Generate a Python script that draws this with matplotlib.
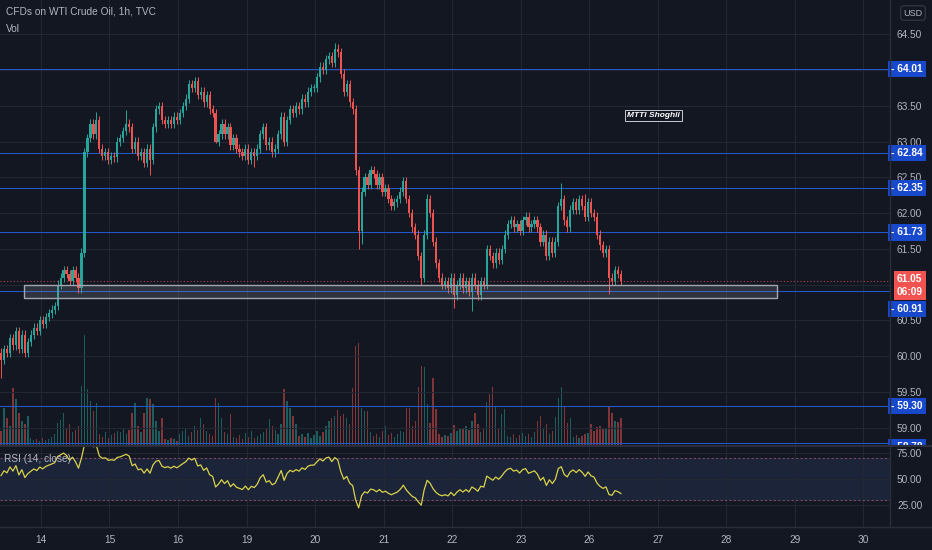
import numpy as np
import matplotlib
matplotlib.use("Agg")
import matplotlib.pyplot as plt
from matplotlib.lines import Line2D
from matplotlib.patches import Rectangle
from matplotlib.transforms import blended_transform_factory, Bbox, TransformedBbox

# hourly closes, one per candle
closes = [
    59.95, 60.10, 60.05, 60.25, 60.15, 60.35, 60.10, 60.30, 60.05, 60.20,
    60.30, 60.40, 60.35, 60.50, 60.45, 60.55, 60.60, 60.65, 60.70, 61.00,
    61.10, 61.20, 61.15, 61.05, 61.20, 61.10, 60.95, 61.45, 62.85, 63.05,
    63.25, 63.10, 63.30, 62.90, 62.80, 62.85, 62.75, 62.80, 62.78, 63.00,
    63.05, 63.15, 63.25, 63.20, 62.90, 63.00, 62.80, 62.85, 62.70, 62.90,
    62.75, 63.20, 63.45, 63.50, 63.30, 63.25, 63.30, 63.25, 63.35, 63.30,
    63.40, 63.50, 63.60, 63.80, 63.75, 63.85, 63.65, 63.70, 63.55, 63.65,
    63.45, 63.40, 63.00, 63.10, 63.25, 63.10, 63.20, 62.95, 63.05, 62.90,
    62.85, 62.80, 62.90, 62.75, 62.85, 62.80, 62.90, 63.10, 63.20, 62.95,
    63.00, 62.85, 62.90, 63.10, 63.35, 63.00, 63.30, 63.45, 63.40, 63.50,
    63.45, 63.60, 63.55, 63.70, 63.75, 63.75, 63.90, 64.05, 64.00, 64.15,
    64.20, 64.10, 64.30, 64.25, 63.95, 63.70, 63.80, 63.55, 63.45, 62.60,
    61.75, 62.30, 62.50, 62.40, 62.60, 62.55, 62.40, 62.50, 62.30, 62.35,
    62.20, 62.10, 62.15, 62.20, 62.30, 62.45, 62.20, 62.00, 61.80, 61.70,
    61.40, 61.10, 61.70, 62.20, 62.00, 61.60, 61.30, 61.10, 61.00, 61.05,
    60.95, 61.10, 60.85, 61.00, 61.10, 60.95, 61.05, 60.90, 61.10, 61.00,
    60.85, 61.05, 61.00, 61.50, 61.40, 61.30, 61.45, 61.35, 61.50, 61.70,
    61.85, 61.90, 61.80, 61.85, 61.75, 61.90, 61.95, 61.80, 61.85, 61.90,
    61.80, 61.60, 61.70, 61.40, 61.60, 61.45, 61.60, 62.10, 62.20, 61.90,
    61.80, 62.05, 62.15, 62.05, 62.20, 62.10, 61.95, 62.15, 62.00, 61.95,
    61.70, 61.55, 61.45, 61.50, 61.10, 61.05, 61.20, 61.15, 61.05,
]
first_open = 60.05
wick = 0.06
# wicks that stick out further than the usual one
high_marks = {32: 63.42, 42: 63.44, 65: 63.90, 112: 64.38, 135: 62.50,
              143: 62.27, 188: 62.42, 196: 62.27}
low_marks = {0: 59.70, 50: 62.53, 72: 62.98, 85: 62.64, 120: 61.50, 121: 61.57,
             141: 61.00, 152: 60.67, 158: 60.63, 204: 60.87}

volumes = [
    15, 38, 28, 20, 58, 47, 33, 25, 22, 30,
    8, 6, 7, 5, 8, 6, 7, 9, 12, 23,
    26, 33, 18, 22, 14, 16, 20, 60, 111, 57,
    45, 35, 43, 12, 9, 14, 8, 11, 13, 15,
    14, 17, 12, 16, 33, 43, 20, 14, 33, 48,
    47, 42, 25, 15, 28, 7, 6, 8, 7, 5,
    12, 15, 18, 10, 14, 20, 16, 28, 22, 15,
    12, 10, 48, 43, 28, 14, 12, 32, 9, 8,
    11, 7, 13, 9, 15, 8, 10, 12, 14, 18,
    27, 20, 16, 12, 22, 57, 45, 38, 30, 22,
    10, 12, 9, 13, 8, 11, 15, 10, 14, 20,
    25, 28, 30, 36, 30, 32, 28, 22, 58, 100,
    103, 38, 35, 35, 14, 10, 12, 9, 15, 20,
    11, 13, 9, 12, 15, 14, 38, 38, 20, 25,
    59, 80, 79, 42, 23, 68, 37, 12, 9, 11,
    10, 13, 21, 15, 18, 17, 20, 16, 25, 33,
    22, 14, 18, 44, 52, 59, 40, 18, 32, 37,
    10, 9, 12, 8, 11, 13, 10, 12, 9, 14,
    25, 30, 18, 22, 12, 15, 29, 48, 59, 40,
    23, 28, 9, 11, 8, 10, 12, 13, 22, 15,
    19, 20, 18, 17, 39, 33, 25, 24, 28,
]

day_labels = ['14', '15', '16', '19', '20', '21', '22', '23', '26', '27', '28', '29', '30']
levels = [64.01, 62.84, 62.35, 61.73, 60.91, 59.30, 58.78]
last_price = 61.05
countdown = '06:09'
zone = (60.81, 60.99)

bg = '#131722'
grid_c = '#232733'
txt_c = '#b2b5be'
up_c = '#26a69a'
dn_c = '#ef5350'
blue = '#2556cc'
box_blue = '#1848cc'

plt.rcParams['font.family'] = ['Liberation Sans', 'DejaVu Sans']


def rsi(values, start, n=14, avg_gain=0.06, avg_loss=0.045):
    out = []
    prev = start
    for c in values:
        d = c - prev
        avg_gain = (avg_gain * (n - 1) + max(d, 0)) / n
        avg_loss = (avg_loss * (n - 1) + max(-d, 0)) / n
        out.append(100 - 100 / (1 + avg_gain / avg_loss))
        prev = c
    return np.array(out)


closes = np.array(closes)
opens = np.concatenate([[first_open], closes[:-1]])
highs = np.maximum(opens, closes) + wick
lows = np.minimum(opens, closes) - wick
for k, v in high_marks.items():
    highs[k] = v
for k, v in low_marks.items():
    lows[k] = v
idx = np.arange(len(closes))
up = closes >= opens
colors = np.where(up, up_c, dn_c)
day_pos = 13.4 + 23 * np.arange(len(day_labels))

W, H = 932, 550
fig = plt.figure(figsize=(W / 100, H / 100), dpi=100, facecolor=bg)
ax = fig.add_axes([0, 104 / H, 890 / W, 446 / H])
axr = fig.add_axes([0, 23 / H, 890 / W, 81 / H], facecolor=bg)
axv = ax.twinx()

# volume behind the candles
axv.bar(idx, volumes, width=0.45, color=colors, alpha=0.5)
axv.set_ylim(0, max(volumes) * 446 / 111)
axv.axis('off')
ax.set_zorder(axv.get_zorder() + 1)
ax.patch.set_visible(False)

# candles
ax.vlines(idx, lows, highs, colors=colors, lw=0.7, zorder=3)
ax.bar(idx, np.maximum(np.abs(closes - opens), 0.015), bottom=np.minimum(opens, closes),
       width=0.74, color=colors, zorder=4)

ax.set_xlim(-0.34, 298.3)
ax.set_ylim(58.745, 64.98)
ax.set_xticks(day_pos)
ax.tick_params(labelbottom=False, length=0)
ax.yaxis.tick_right()
ticks = np.arange(59.0, 64.51, 0.5)
# 61.00 and 64.00 sit under the price labels
ax.set_yticks(ticks, ['' if t in (61.0, 64.0) else f'{t:.2f}' for t in ticks])
ax.tick_params(axis='y', colors=txt_c, labelsize=7.3, pad=5, length=0)
ax.grid(True, color=grid_c, lw=0.8)
for s in ax.spines.values():
    s.set_visible(False)

trans = blended_transform_factory(ax.transAxes, ax.transData)

# support / resistance lines
for lvl in levels:
    ax.axhline(lvl, color=blue, lw=0.75, zorder=2)
ax.axhline(last_price, color=dn_c, lw=0.8, ls=(0, (1, 2)), alpha=0.7, zorder=2)
ax.add_patch(Rectangle((7.7, zone[0]), 252.7, zone[1] - zone[0], facecolor='#9598a1',
                       alpha=0.22, edgecolor='none', zorder=5))
ax.add_patch(Rectangle((7.7, zone[0]), 252.7, zone[1] - zone[0], facecolor='none',
                       edgecolor='#a3a6af', lw=1.0, zorder=5))

ax.text(218.8, 63.37, 'MTTI Shoghli', color='white', fontsize=6, style='italic',
        fontweight='bold', ha='center', va='center', zorder=6,
        bbox=dict(boxstyle='square,pad=0.25', fc=bg, ec='#c8cad0', lw=0.7))

# price scale labels
offsets = {60.91: -18, 58.78: -4}
clip = TransformedBbox(Bbox([[0, 105 / H], [1, 1]]), fig.transFigure)
for lvl in levels:
    a = ax.annotate(f'- {lvl:.2f}', xy=(1, lvl), xycoords=trans,
                    xytext=(1, offsets.get(lvl, 0)), textcoords='offset pixels',
                    ha='left', va='center', color='white', fontsize=7.3, fontweight='bold',
                    annotation_clip=False, zorder=8,
                    bbox=dict(boxstyle='square,pad=0.3', fc=box_blue, ec='none'))
    a.set_clip_box(clip)
    a.set_clip_on(True)
ax.annotate(f'{last_price:.2f}\n{countdown}', xy=(1, last_price), xycoords=trans,
            xytext=(7, 7), textcoords='offset pixels', ha='left', va='top',
            color='white', fontsize=7.3, fontweight='bold', linespacing=1.35,
            annotation_clip=False, zorder=9,
            bbox=dict(boxstyle='square,pad=0.3', fc='#f05350', ec='none'))

# RSI pane
rsi_vals = rsi(closes, first_open)
axr.axhspan(30, 70, color='#1b2438', zorder=0)
axr.axhline(70, color='#7a4660', lw=0.8, ls=(0, (2, 2)))
axr.axhline(30, color='#7a4660', lw=0.8, ls=(0, (2, 2)))
axr.plot(idx, rsi_vals, color='#d9d24a', lw=0.9)
axr.set_xlim(-0.34, 298.3)
axr.set_ylim(3.8, 81.7)
axr.set_xticks(day_pos, day_labels)
axr.yaxis.tick_right()
axr.set_yticks([25, 50, 75], ['25.00', '50.00', '75.00'])
axr.tick_params(colors=txt_c, labelsize=7.3, length=0)
axr.tick_params(axis='y', pad=5)
axr.tick_params(axis='x', pad=6)
axr.grid(True, color=grid_c, lw=0.8)
for s in axr.spines.values():
    s.set_visible(False)

# pane separators
sep = '#2a2e39'
fig.add_artist(Line2D([890 / W, 890 / W], [23 / H, 1], color=sep, lw=1))
fig.add_artist(Line2D([0, 1], [104 / H, 104 / H], color=sep, lw=1.5))
fig.add_artist(Line2D([0, 1], [23 / H, 23 / H], color=sep, lw=1))

fig.text(6 / W, 1 - 12 / H, 'CFDs on WTI Crude Oil, 1h, TVC', color=txt_c, fontsize=7.3, va='center')
fig.text(6 / W, 1 - 29 / H, 'Vol', color=txt_c, fontsize=7.3, va='center')
fig.text(4 / W, 1 - 459 / H, 'RSI (14, close)', color=txt_c, fontsize=7.3, va='center')
fig.text(913 / W, 1 - 13 / H, 'USD', color=txt_c, fontsize=6.5, ha='center', va='center',
         bbox=dict(boxstyle='round,pad=0.3', fc=bg, ec='#363a45', lw=0.8))

fig.savefig('out.png', dpi=100, facecolor=bg)
